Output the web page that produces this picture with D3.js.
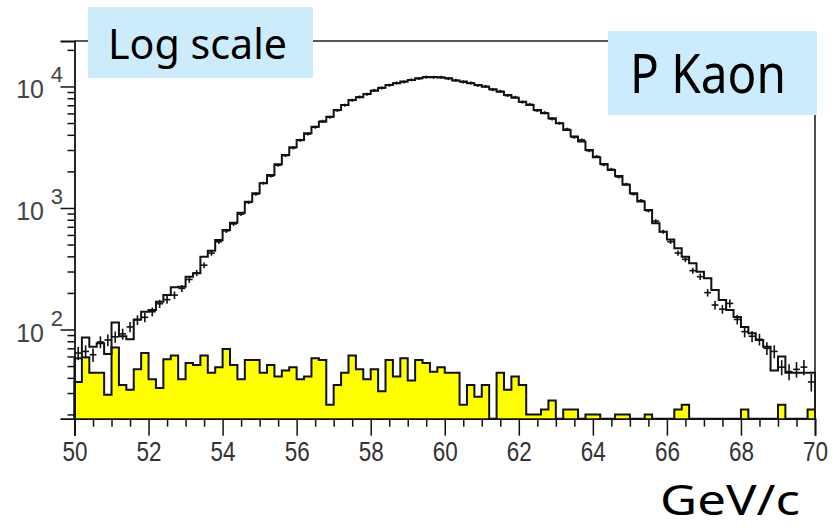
<!DOCTYPE html>
<html><head><meta charset="utf-8">
<script src="https://cdn.jsdelivr.net/npm/d3@7"></script>
<style>html,body{margin:0;padding:0;background:#fff;overflow:hidden}</style>
</head><body><svg id="c" width="835" height="530"></svg>
<script>
// ---- data ----
const xTickLabels = [50,52,54,56,58,60,62,64,66,68,70];
const yDecades = [100,1000,10000];
const yExponents = ["2","3","4"];
// black outline histogram (simulation), 100 bins of 0.2 GeV/c from 50 to 70
const mcCounts = [58,86,72,77,63,114,88,83,121,140,
 145,169,192,223,225,272,290,397,445,545,
 660,756,914,1126,1321,1596,1869,2290,2730,3160,
 3630,4120,4670,5130,5640,6410,7050,7740,8150,8670,
 9230,9770,10280,10620,10960,11300,11670,11900,11950,11830,
 11670,11170,10960,10620,10280,9950,9480,9060,8510,8090,
 7500,7050,6410,6020,5470,4980,4390,3870,3520,3000,
 2610,2300,2050,1830,1550,1320,1130,964,748,638,
 550,466,397,351,299,264,211,175,145,127,
 105,93,82,72,46,60,44,44,44,44];
// data points (crosses)
const dataCounts = [64,66,62,79,82,87,92,105,120,126,
 140,163,176,192,218,258,292,338,425,528,
 648,740,890,1110,1300,1600,1830,2250,2700,3120,
 3600,4060,4620,5180,5580,6350,7010,7690,8200,8610,
 9290,9700,10230,10680,10900,11350,11600,11950,11880,11900,
 11600,11230,10880,10690,10200,10020,9400,9130,8420,8150,
 7420,7120,6330,6080,5400,4980,4450,3820,3630,2960,
 2650,2270,2080,1800,1570,1300,1150,950,780,638,
 528,426,378,305,272,201,159,147,164,121,
 96,88,83,70,66,49,45,47,49,37];
// yellow filled histogram (background)
const bkgCounts = [37,59,44,44,29,71,35,32,47,64,
 39,33,57,61,39,53,51,61,44,49,
 69,51,39,56,56,44,51,41,46,49,
 39,41,58,56,24,35,44,61,47,39,
 47,31,56,41,58,38,56,53,45,49,
 44,44,24,35,28,35,0,44,32,41,
 35,20,20,22,26,0,22,22,0,20,
 20,0,0,20,20,0,0,20,0,0,
 0,22,24,0,0,0,0,0,0,0,
 22,0,0,0,0,24,0,0,0,22];
const labelLeft = "Log scale";
const labelRight = "P Kaon";
const xTitle = "GeV/c";

// ---- layout ----
const L = 74.5, R = 815, T = 41, B = 418.7;
const svg = d3.select("#c");
const x = d3.scaleLinear().domain([50,70]).range([L,R]);
const y = d3.scaleLog().domain([18.45,23660]).range([B,T]).clamp(true);
const nb = mcCounts.length;
const edges = d3.range(nb+1).map(i => 50 + i*20/nb);

function stepPath(vals){
  let p = `M${x(edges[0])},${B}`;
  vals.forEach((v,i)=>{
    const yy = v>0 ? y(v) : B;
    p += `V${yy}H${x(edges[i+1])}`;
  });
  return p + `V${B}`;
}

// yellow histogram
svg.append("path").attr("d", stepPath(bkgCounts))
  .attr("fill","#ffff00").attr("stroke","#111").attr("stroke-width",2)
  .attr("stroke-linejoin","miter");
// black histogram
svg.append("path").attr("d", stepPath(mcCounts))
  .attr("fill","none").attr("stroke","#111").attr("stroke-width",2);
// crosses
const cg = svg.append("g").attr("stroke","#111").attr("stroke-width",1.6);
dataCounts.forEach((v,i)=>{
  const xc = x((edges[i]+edges[i+1])/2);
  const yc = y(v);
  const e = Math.sqrt(v);
  let y1 = y(v+e), y2 = y(Math.max(v-e,1));
  y1 = Math.min(y1, yc-1.5); y2 = Math.max(y2, yc+1.5);
  cg.append("line").attr("x1",xc-3.4).attr("x2",xc+3.4).attr("y1",yc).attr("y2",yc);
  cg.append("line").attr("x1",xc).attr("x2",xc).attr("y1",y1).attr("y2",Math.min(y2,B));
});

// frame top/right
svg.append("path").attr("d",`M${L},${T}H${R}V${B}`).attr("fill","none")
  .attr("stroke","#222").attr("stroke-width",1.6);

// x axis
const xMinor = d3.range(50,70.01,0.5).filter(v => v%2!==0);
svg.append("g").attr("transform",`translate(0,${B})`)
  .call(d3.axisBottom(x).tickValues(xMinor).tickSize(8).tickFormat(""))
  .call(g=>g.select(".domain").remove())
  .call(g=>g.selectAll("line").attr("stroke","#111").attr("stroke-width",1.5));
svg.append("g").attr("transform",`translate(0,${B})`)
  .call(d3.axisBottom(x).tickValues(xTickLabels).tickSize(17).tickPadding(6).tickFormat(d3.format("d")))
  .call(g=>g.select(".domain").attr("stroke","#111").attr("stroke-width",1.8))
  .call(g=>g.selectAll("line").attr("stroke","#111").attr("stroke-width",1.5))
  .call(g=>g.selectAll("text").attr("font-family","'Liberation Sans', Arial, sans-serif")
      .attr("font-size",27).attr("fill","#333")
      .attr("textLength",25).attr("lengthAdjust","spacingAndGlyphs"));

// y axis
const yMinor = [];
[10,100,1000,10000].forEach(d=>{ for(let k=2;k<=9;k++){ const v=k*d; if(v>18.45 && v<23660) yMinor.push(v);} });
svg.append("g").attr("transform",`translate(${L},0)`)
  .call(d3.axisLeft(y).tickValues(yMinor).tickSize(7).tickFormat(""))
  .call(g=>g.select(".domain").remove())
  .call(g=>g.selectAll("line").attr("stroke","#111").attr("stroke-width",1.5));
svg.append("g").attr("transform",`translate(${L},0)`)
  .call(d3.axisLeft(y).tickValues(yDecades).tickSize(14).tickFormat(""))
  .call(g=>g.select(".domain").attr("stroke","#111").attr("stroke-width",1.8))
  .call(g=>g.selectAll("line").attr("stroke","#111").attr("stroke-width",1.5));
const yl = svg.append("g").attr("font-family","'Liberation Sans', Arial, sans-serif").attr("fill","#444");
yDecades.forEach((v,i)=>{
  yl.append("text").attr("x",44).attr("y",y(v)+12).attr("text-anchor","end")
    .attr("font-size",25).text("10");
  yl.append("text").attr("x",63).attr("y",y(v)-4).attr("text-anchor","end")
    .attr("font-size",22).text(yExponents[i]);
});

// labels boxes
const lf = "'Comic Sans MS','Noto Sans',sans-serif";
svg.append("rect").attr("x",88).attr("y",7).attr("width",225).attr("height",71).attr("fill","#ccecfc");
svg.append("text").attr("x",108).attr("y",59).attr("font-family",lf).attr("font-size",42)
  .attr("textLength",179).attr("lengthAdjust","spacingAndGlyphs").attr("fill","#000").text(labelLeft);
svg.append("rect").attr("x",608).attr("y",31).attr("width",209).attr("height",84).attr("fill","#ccecfc");
svg.append("text").attr("x",630).attr("y",93).attr("font-family",lf).attr("font-size",54)
  .attr("textLength",156).attr("lengthAdjust","spacingAndGlyphs").attr("fill","#000").text(labelRight);
svg.append("text").attr("x",660).attr("y",515).attr("font-family",lf).attr("font-size",42)
  .attr("textLength",140).attr("lengthAdjust","spacingAndGlyphs").attr("fill","#000").text(xTitle);
</script></body></html>
